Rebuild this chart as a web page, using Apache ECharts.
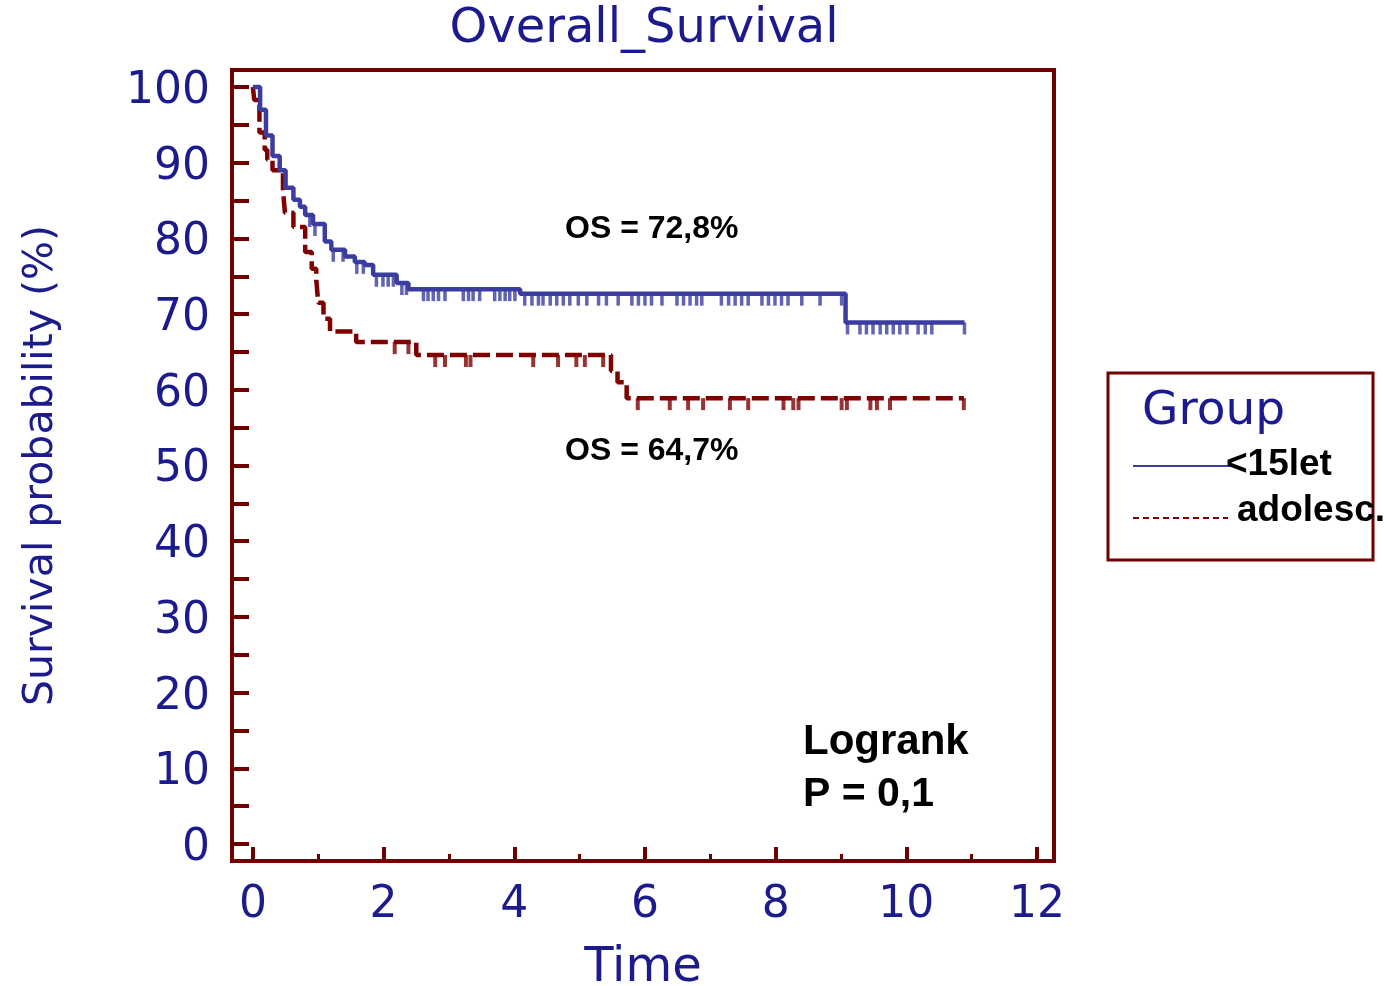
<!DOCTYPE html>
<html><head><meta charset="utf-8">
<script src="https://cdn.jsdelivr.net/npm/echarts/dist/echarts.min.js"></script>
<style>html,body{margin:0;padding:0;background:#fff}#c{width:1386px;height:986px}</style>
</head><body><div id="c"></div>
<script>
// ---- data ----
const xMajorTicks = [0, 2, 4, 6, 8, 10, 12];
const xMinorTicks = [1, 3, 5, 7, 9, 11];
const yTicks = [0, 5, 10, 15, 20, 25, 30, 35, 40, 45, 50, 55, 60, 65, 70, 75, 80, 85, 90, 95, 100];
const yTickLabels = [0, 10, 20, 30, 40, 50, 60, 70, 80, 90, 100];
const groupNames = ['<15let', 'adolesc.'];

const youngTime = [0, 0.11, 0.2, 0.3, 0.41, 0.5, 0.62, 0.72, 0.8, 0.92, 1.1, 1.2, 1.41, 1.56, 1.71, 1.84, 2.2, 2.38, 4.09, 9.07, 10.89];
const youngSurv = [100, 97.0, 93.6, 90.9, 89.0, 86.7, 85.1, 84.2, 83.1, 81.9, 79.6, 78.5, 77.6, 76.9, 76.5, 75.2, 74.1, 73.3, 72.7, 68.9, 68.9];
const youngCensor = [0.87, 0.95, 1.23, 1.38, 1.59, 1.69, 1.89, 1.99, 2.07, 2.15, 2.28, 2.35, 2.61, 2.68, 2.76, 2.84, 2.94, 3.22, 3.30, 3.37, 3.47, 3.70, 3.78, 3.86, 3.93, 4.01, 4.16, 4.27, 4.37, 4.44, 4.55, 4.65, 4.75, 4.85, 4.98, 5.11, 5.29, 5.41, 5.59, 5.80, 5.90, 6.00, 6.10, 6.26, 6.49, 6.59, 6.69, 6.79, 6.87, 7.17, 7.28, 7.38, 7.48, 7.58, 7.79, 7.89, 7.99, 8.09, 8.19, 8.40, 8.68, 9.01, 9.10, 9.29, 9.39, 9.49, 9.60, 9.70, 9.80, 9.90, 10.01, 10.18, 10.29, 10.39, 10.89];

const adolTime = [0, 0.02, 0.1, 0.18, 0.22, 0.3, 0.46, 0.49, 0.62, 0.8, 0.9, 0.97, 1.0, 1.08, 1.18, 1.58, 2.5, 5.48, 5.58, 5.72, 10.88];
const adolSurv = [100, 98.3, 94.0, 91.7, 90.4, 89.0, 86.4, 83.4, 81.5, 78.2, 76.0, 74.5, 71.5, 69.4, 67.7, 66.3, 64.6, 62.5, 61.0, 58.9, 58.9];
const adolCensor = [2.17, 2.38, 2.79, 2.94, 3.26, 3.33, 4.29, 4.67, 4.95, 5.08, 5.36, 5.89, 6.38, 6.66, 6.89, 7.30, 7.58, 8.12, 8.27, 8.35, 9.01, 9.09, 9.45, 9.55, 9.75, 10.88];

// ---- helpers ----
function pairs(ts, ss){ return ts.map((t,i)=>[t, ss[i]]); }
function survAt(ts, ss, t){ let v = ss[0]; for (let i=0;i<ts.length;i++){ if (ts[i] <= t) v = ss[i]; } return v; }
function censorPts(cs, ts, ss){ return cs.map(t=>[t, survAt(ts, ss, t)]); }

const NAVY = '#1b1b8e';
const FRAME = '#6e0000';
const BLUE = '#3a3d9f';
const RED = '#800000';
const DEJAVU = '"DejaVu Sans", Verdana, sans-serif';
const ARIAL = '"Liberation Sans", Arial, sans-serif';

// axis extents so that 0..12 / 0..100 sit inside the drawn frame like the original
const X_MIN = -0.32, X_MAX = 12.26;
const Y_MIN = -2.25, Y_MAX = 102.25;

const chart = echarts.init(document.getElementById('c'), null, {renderer:'canvas'});
chart.setOption({
  animation: false,
  backgroundColor: '#fff',
  title: {
    text: 'Overall_Survival', left: 639, top: 1, textAlign: 'center',
    textStyle: {fontFamily: DEJAVU, fontSize: 48, fontWeight: 'normal', color: NAVY}
  },
  grid: {left: 232, right: 332, top: 70, bottom: 125, containLabel: false, outerBoundsMode: 'none'},
  xAxis: [
    {
      type: 'value', min: X_MIN, max: X_MAX, position: 'bottom',
      name: 'Time', nameLocation: 'middle', nameGap: 84,
      nameTextStyle: {fontFamily: DEJAVU, fontSize: 48, color: NAVY},
      axisLine: {show: false, onZero: false},
      axisTick: {show: true, inside: true, length: 14, customValues: xMajorTicks, lineStyle: {color: FRAME, width: 4}},
      splitLine: {show: false},
      axisLabel: {fontFamily: DEJAVU, fontSize: 44, color: NAVY, margin: 23, customValues: xMajorTicks}
    },
    {
      type: 'value', min: X_MIN, max: X_MAX, position: 'bottom',
      axisLine: {show: false, onZero: false},
      axisTick: {show: true, inside: true, length: 7, customValues: xMinorTicks, lineStyle: {color: FRAME, width: 3}},
      splitLine: {show: false},
      axisLabel: {show: false}
    }
  ],
  yAxis: {
    type: 'value', min: Y_MIN, max: Y_MAX, position: 'left',
    name: 'Survival probability (%)', nameLocation: 'middle', nameGap: 170,
    nameTextStyle: {fontFamily: DEJAVU, fontSize: 41, color: NAVY},
    axisLine: {show: false, onZero: false},
    axisTick: {show: true, inside: true, length: 17, customValues: yTicks, lineStyle: {color: FRAME, width: 4}},
    splitLine: {show: false},
    axisLabel: {
      margin: 22, customValues: yTickLabels,
      formatter: v => '{t|' + v + '}',
      rich: {t: {fontFamily: DEJAVU, fontSize: 44, color: NAVY, padding: [9, 0, 0, 0]}}
    }
  },
  series: [
    {
      name: groupNames[1], type: 'line', step: 'end', showSymbol: false, z: 2,
      data: pairs(adolTime, adolSurv),
      lineStyle: {color: RED, width: 4.5, type: [17, 6]}
    },
    {
      name: groupNames[1] + ' censored', type: 'scatter', z: 2,
      data: censorPts(adolCensor, adolTime, adolSurv),
      symbol: 'rect', symbolSize: [4, 12], symbolOffset: [0, 6],
      itemStyle: {color: RED}
    },
    {
      name: groupNames[0], type: 'line', step: 'end', showSymbol: false, z: 3,
      data: pairs(youngTime, youngSurv),
      lineStyle: {color: BLUE, width: 4.5}
    },
    {
      name: groupNames[0] + ' censored', type: 'scatter', z: 3,
      data: censorPts(youngCensor, youngTime, youngSurv),
      symbol: 'rect', symbolSize: [3.5, 12], symbolOffset: [0, 6],
      itemStyle: {color: BLUE}
    }
  ],
  graphic: [
    {type: 'rect', shape: {x: 232, y: 70, width: 822, height: 791}, style: {fill: 'none', stroke: FRAME, lineWidth: 4}, z: 10},
    {type: 'text', x: 565, y: 229, style: {text: 'OS = 72,8%', fontFamily: ARIAL, fontSize: 32, fontWeight: 'bold', fill: '#000', textVerticalAlign: 'middle'}},
    {type: 'text', x: 565, y: 451, style: {text: 'OS = 64,7%', fontFamily: ARIAL, fontSize: 32, fontWeight: 'bold', fill: '#000', textVerticalAlign: 'middle'}},
    {type: 'text', x: 803, y: 742, style: {text: 'Logrank', fontFamily: ARIAL, fontSize: 42, fontWeight: 'bold', fill: '#000', textVerticalAlign: 'middle'}},
    {type: 'text', x: 803, y: 795, style: {text: 'P = 0,1', fontFamily: ARIAL, fontSize: 41, fontWeight: 'bold', fill: '#000', textVerticalAlign: 'middle'}},
    {type: 'rect', shape: {x: 1108, y: 373, width: 265, height: 187}, style: {fill: 'none', stroke: FRAME, lineWidth: 3}},
    {type: 'text', x: 1142, y: 412, style: {text: 'Group', fontFamily: DEJAVU, fontSize: 47, fill: NAVY, textVerticalAlign: 'middle'}},
    {type: 'line', shape: {x1: 1133, y1: 466, x2: 1230, y2: 466}, style: {stroke: BLUE, lineWidth: 2}},
    {type: 'text', x: 1226, y: 465, style: {text: groupNames[0], fontFamily: ARIAL, fontSize: 37, fontWeight: 'bold', fill: '#000', textVerticalAlign: 'middle'}},
    {type: 'line', shape: {x1: 1133, y1: 518, x2: 1228, y2: 518}, style: {stroke: RED, lineWidth: 2, lineDash: [6, 4]}},
    {type: 'text', x: 1237, y: 511, style: {text: groupNames[1], fontFamily: ARIAL, fontSize: 37, fontWeight: 'bold', fill: '#000', textVerticalAlign: 'middle'}}
  ]
});
</script>
</body></html>
